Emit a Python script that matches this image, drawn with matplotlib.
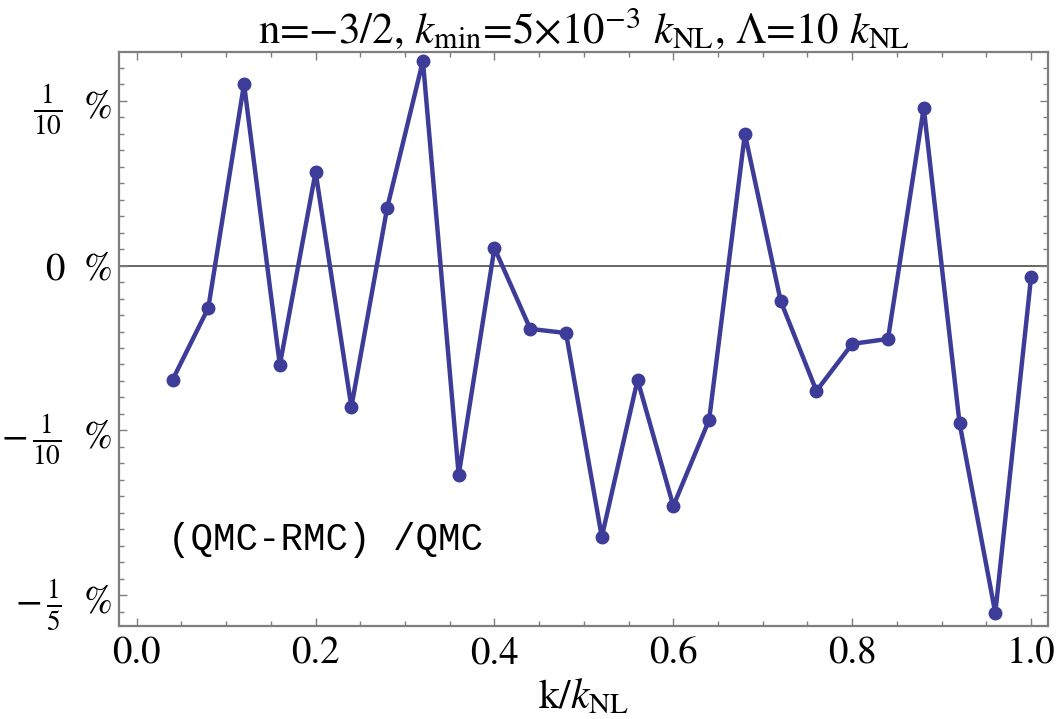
import numpy as np
import matplotlib
matplotlib.use("Agg")
import matplotlib.pyplot as plt
from matplotlib.ticker import MultipleLocator, FixedLocator

plt.rcParams['font.family'] = ['STIXGeneral', 'DejaVu Serif']
plt.rcParams['mathtext.fontset'] = 'stix'

# k / k_NL and relative difference in percent
k = [0.04, 0.08, 0.12, 0.16, 0.20, 0.24, 0.28, 0.32, 0.36, 0.40, 0.44, 0.48, 0.52,
     0.56, 0.60, 0.64, 0.68, 0.72, 0.76, 0.80, 0.84, 0.88, 0.92, 0.96, 1.00]
diff = [-0.0694, -0.0257, 0.1103, -0.0603, 0.0569, -0.0858, 0.0350, 0.1243, -0.1271,
        0.0107, -0.0384, -0.0409, -0.1647, -0.0694, -0.1459, -0.0937, 0.0800, -0.0214,
        -0.0761, -0.0475, -0.0445, 0.0958, -0.0955, -0.2109, -0.0069]

yticks = [0.1, 0.0, -0.1, -0.2]
ylabels = [r'$\frac{1}{10}\ \ \mathit{\%}$', r'$0\ \ \mathit{\%}$',
           r'$-\,\frac{1}{10}\ \ \mathit{\%}$', r'$-\,\frac{1}{5}\ \ \mathit{\%}$']

col = '#3d3d99'
grey = '#7f7f7f'

fig = plt.figure(figsize=(10.57, 7.19), dpi=100)
ax = fig.add_axes([0.1126, 0.1298, 0.8792, 0.7983])

ax.axhline(0, color='#4d4d4d', lw=1.2, zorder=1)
ax.plot(k, diff, '-o', color=col, lw=3.2, ms=9, zorder=3)

ax.set_xlim(-0.0198, 1.0193)
ax.set_ylim(-0.2186, 0.1299)

ax.xaxis.set_major_locator(MultipleLocator(0.2))
ax.xaxis.set_minor_locator(MultipleLocator(0.05))
ax.xaxis.set_major_formatter(plt.FuncFormatter(lambda v, p: '%.1f' % v))
ax.yaxis.set_minor_locator(MultipleLocator(0.01))
ax.set_yticks(yticks)
ax.set_yticklabels(ylabels)

ax.tick_params(which='both', direction='in', top=True, right=True, colors=grey,
               labelcolor='black', width=1.0)
ax.tick_params(which='major', length=6)
ax.tick_params(which='minor', length=3.5)
ax.tick_params(axis='x', which='major', labelsize=28, pad=8)
ax.tick_params(axis='y', which='major', labelsize=28, pad=5)
for s in ax.spines.values():
    s.set_color(grey)
    s.set_linewidth(1.6)

ax.set_xlabel(r'k/$k_{\rm NL}$', fontsize=30, labelpad=4)
ax.set_title(r'n=$-$3/2, $k_{\rm min}$=5$\times$10$^{-3}$ $k_{\rm NL}$, $\Lambda$=10 $k_{\rm NL}$',
             fontsize=31, pad=6)

ax.text(0.2106, -0.1665, '(QMC-RMC) /QMC', family='Liberation Mono', fontsize=27,
        ha='center', va='center')

fig.savefig('out.png', dpi=100)
